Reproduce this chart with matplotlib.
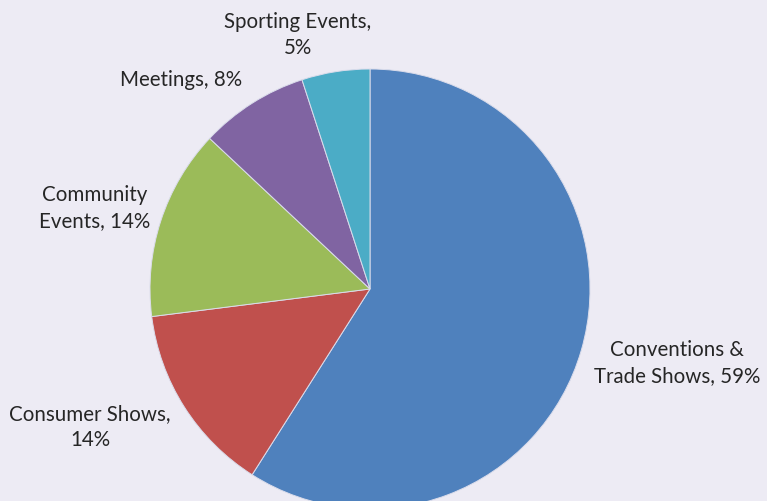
import matplotlib.pyplot as plt

labels = ['Conventions &\nTrade Shows, 59%', 'Consumer Shows,\n14%', 'Community\nEvents, 14%',
          'Meetings, 8%', 'Sporting Events,\n5%']
shares = [59, 14, 14, 8, 5]
colors = ['#4F81BD', '#C0504D', '#9BBB59', '#8064A2', '#4BACC6']

# label centres, in pixels from the bottom-left corner
label_xy = [(677, 139), (90, 75), (95, 294), (181, 422), (298, 467)]

bg = '#EDEBF4'
fig = plt.figure(figsize=(7.67, 5.02), dpi=100, facecolor=bg)
ax = fig.add_axes([0, 0, 1, 1])
ax.set_facecolor(bg)

ax.pie(shares, colors=colors, startangle=90, counterclock=False,
       center=(370, 212), radius=220,
       wedgeprops=dict(edgecolor='#DADCEB', linewidth=0.7))

for text, (x, y) in zip(labels, label_xy):
    ax.text(x, y, text, ha='center', va='center', fontsize=14.8,
            family='Lato', color='#262626', linespacing=1.42)

ax.set_xlim(0, 767)
ax.set_ylim(0, 502)
ax.set_aspect('equal')
ax.axis('off')

fig.savefig('out.png', dpi=100, facecolor=bg)
